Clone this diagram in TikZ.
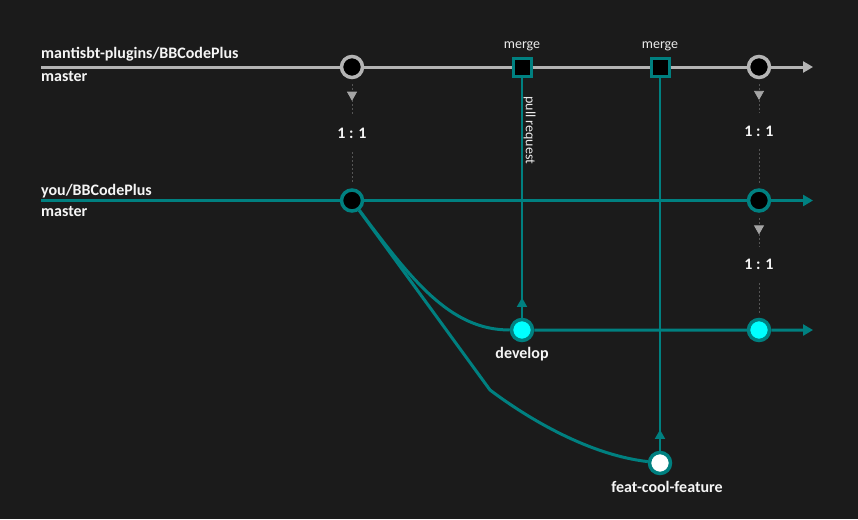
\documentclass[tikz,border=0pt]{standalone}
\usepackage{fontspec}
\setmainfont{Carlito}
\usepackage{xcolor}
\usetikzlibrary{arrows.meta,decorations.markings}

\definecolor{bg}{RGB}{27,27,27}
\definecolor{upgray}{RGB}{180,180,180}
\definecolor{gitteal}{RGB}{0,128,128}
\definecolor{devcyan}{RGB}{0,255,255}
\definecolor{syncgray}{RGB}{85,85,85}
\definecolor{tipgray}{RGB}{165,165,165}
\definecolor{txt}{RGB}{245,245,245}
\definecolor{txtlight}{RGB}{235,235,235}

\tikzset{
  upline/.style={draw=upgray, line width=3pt, -{Triangle[length=10pt,width=11pt]}},
  forkline/.style={draw=gitteal, line width=3pt},
  pr/.style={draw=gitteal, line width=1.3pt, postaction={decorate},
    decoration={markings, mark=at position #1 with {\arrow{Triangle[length=9pt,width=10pt]}}}},
  sync/.style={draw=syncgray, line width=0.8pt, dash pattern=on 2pt off 2pt},
  syncarrow/.style={sync, postaction={decorate},
    decoration={markings, mark=at position #1 with {\arrow{Triangle[length=9pt,width=10pt,color=tipgray]}}}},
  upc/.style={circle, draw=upgray, line width=3.5pt, fill=black, minimum size=21pt, inner sep=0pt},
  forkc/.style={upc, draw=gitteal},
  devc/.style={forkc, fill=devcyan},
  featc/.style={forkc, fill=white},
  mergebox/.style={rectangle, draw=gitteal, line width=3pt, fill=black, minimum size=18pt, inner sep=0pt},
  branchlbl/.style={font=\fontsize{16}{19}\selectfont\bfseries, text=txt, inner sep=0pt},
  ratio/.style={font=\fontsize{16}{19}\selectfont\bfseries, text=txt, inner xsep=2pt, inner ysep=13pt},
  note/.style={font=\fontsize{14}{16}\selectfont, text=txtlight, inner sep=1pt}
}

\begin{document}
\begin{tikzpicture}[x=1pt, y=-1pt]
    \useasboundingbox (0,0) rectangle (858,519);
    \fill[bg] (0,0) rectangle (858,519);

    \coordinate (upStart) at (41,67);
    \coordinate (upEnd) at (813,67);
    \coordinate (forkStart) at (41,200.5);
    \coordinate (forkEnd) at (813,200.5);
    \coordinate (devEnd) at (813,330);
    \coordinate (fk) at (490,390);

    \node[branchlbl, anchor=base west] (upName) at (41,59) {mantisbt-plugins/BBCodePlus};
    \node[branchlbl, anchor=base west] (upBranch) at (41,81) {master};
    \node[branchlbl, anchor=base west] (forkName) at (41,195) {you/BBCodePlus};
    \node[branchlbl, anchor=base west] (forkBranch) at (41,216) {master};

    \foreach \n/\x in {u1/352, u2/759}
        \node[upc] (\n) at (\x,67) {};
    \foreach \n/\x in {m1/522, m2/660}{
        \node[mergebox] (\n) at (\x,67) {};
        \node[note, anchor=base] (\n lbl) at (\x,48.5) {merge};
    }
    \foreach \n/\x in {f1/352, f2/759}
        \node[forkc] (\n) at (\x,200.5) {};
    \foreach \n/\x in {d1/522, d2/759}
        \node[devc] (\n) at (\x,330) {};
    \node[featc] (fc) at (660,463) {};

    \node[branchlbl, anchor=base] (devlbl) at (522,358) {develop};
    \node[branchlbl, anchor=base] (featlbl) at (667,492) {feat-cool-feature};

    \node[ratio] (r1) at (352,133.5) {1 : 1};
    \node[ratio] (r2) at (759,131) {1 : 1};
    \node[ratio] (r3) at (759,264.5) {1 : 1};

    \draw[upline] (upStart) -- (u1) -- (m1) -- (m2) -- (u2) -- (upEnd);
    \draw[forkline, -{Triangle[length=10pt,width=11pt]}] (forkStart) -- (f1) -- (f2) -- (forkEnd);
    \draw[forkline, -{Triangle[length=10pt,width=11pt]}] (f1) .. controls +(60,80) and +(-72,0) .. (d1) -- (d2) -- (devEnd);
    \draw[forkline] (f1) -- (fk) .. controls +(40,30) and +(-70,-8) .. (fc);

    \draw[pr=20pt] (d1) -- (m1) node[note, pos=0.78, anchor=south, rotate=-90] (prlbl) {pull request};
    \draw[pr=21pt] (fc) -- (m2);

    \foreach \a/\r/\b/\p in {u1/r1/f1/0.6, u2/r2/f2/0.62, f2/r3/d2/0.65}{
        \draw[syncarrow=\p, shorten <=5pt] (\a) -- (\r);
        \draw[sync, shorten >=5pt] (\r) -- (\b);
    }
\end{tikzpicture}
\end{document}
